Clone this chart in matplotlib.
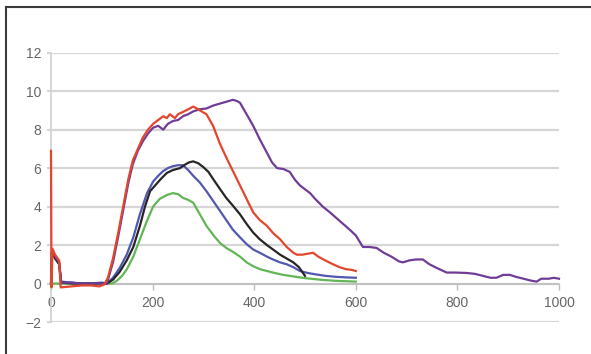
import numpy as np
import matplotlib.pyplot as plt
from matplotlib.lines import Line2D

plt.rcParams['font.family'] = ['Liberation Sans', 'DejaVu Sans']

# data
red_x = [0, 1, 3, 8, 16, 19, 40, 60, 80, 95, 105, 112, 122, 132, 142, 152, 161, 171, 181, 191,
         201, 211, 221, 228, 234, 244, 250, 258, 266, 273, 280, 287, 293, 306, 319, 332, 346,
         359, 372, 385, 398, 411, 425, 438, 451, 464, 477, 484, 495, 505, 516, 526, 540, 555,
         568, 580, 594, 600]
red_y = [6.9, -0.2, 1.8, 1.5, 1.2, -0.2, -0.15, -0.1, -0.1, -0.15, -0.05, 0.3, 1.3, 2.6, 4.0,
         5.4, 6.4, 7.0, 7.6, 8.0, 8.3, 8.5, 8.7, 8.6, 8.8, 8.6, 8.8, 8.9, 9.0, 9.1, 9.2, 9.1,
         9.0, 8.8, 8.2, 7.3, 6.5, 5.8, 5.1, 4.4, 3.7, 3.3, 3.0, 2.6, 2.3, 1.9, 1.6, 1.5, 1.5,
         1.55, 1.6, 1.4, 1.2, 1.0, 0.85, 0.75, 0.7, 0.65]

purple_x = [0, 2, 8, 16, 20, 40, 60, 80, 100, 110, 122, 132, 142, 152, 161, 171, 181, 191, 201,
            211, 221, 230, 240, 250, 260, 270, 280, 293, 306, 319, 332, 345, 358, 365, 372, 385,
            398, 411, 425, 435, 445, 458, 470, 480, 490, 500, 510, 520, 535, 549, 562, 575, 588,
            600, 614, 627, 641, 655, 670, 685, 693, 705, 718, 732, 745, 760, 779, 795, 818, 835,
            850, 865, 877, 890, 903, 915, 930, 945, 956, 965, 980, 990, 1000]
purple_y = [0, 1.7, 1.4, 1.1, 0.05, 0.05, 0.0, 0.0, 0.0, 0.0, 1.1, 2.4, 3.8, 5.2, 6.2, 6.9, 7.4,
            7.8, 8.1, 8.2, 8.0, 8.3, 8.45, 8.5, 8.7, 8.8, 8.95, 9.06, 9.1, 9.25, 9.35, 9.45, 9.55,
            9.5, 9.4, 8.8, 8.2, 7.5, 6.8, 6.3, 6.0, 5.95, 5.8, 5.4, 5.1, 4.9, 4.7, 4.4, 4.0, 3.7,
            3.4, 3.1, 2.8, 2.5, 1.9, 1.9, 1.85, 1.6, 1.4, 1.15, 1.1, 1.2, 1.25, 1.25, 1.0, 0.8,
            0.57, 0.57, 0.55, 0.5, 0.4, 0.3, 0.3, 0.45, 0.45, 0.35, 0.25, 0.15, 0.1, 0.25, 0.25,
            0.3, 0.25]

blue_x = [0, 2, 8, 16, 20, 40, 60, 80, 100, 110, 122, 135, 149, 162, 175, 189, 201, 211, 221,
          230, 240, 250, 260, 270, 280, 293, 306, 319, 332, 345, 358, 372, 385, 398, 411, 425,
          437, 451, 464, 477, 490, 505, 520, 540, 560, 580, 600]
blue_y = [0, 1.7, 1.4, 1.1, 0.1, 0.05, 0.0, 0.0, 0.05, 0.0, 0.3, 0.8, 1.5, 2.4, 3.6, 4.7, 5.3,
          5.6, 5.85, 6.0, 6.1, 6.15, 6.15, 5.9, 5.6, 5.25, 4.8, 4.3, 3.8, 3.3, 2.8, 2.4, 2.05,
          1.77, 1.6, 1.4, 1.25, 1.1, 1.0, 0.85, 0.65, 0.55, 0.48, 0.4, 0.35, 0.32, 0.3]

black_x = [0, 2, 8, 16, 20, 40, 60, 80, 100, 110, 122, 135, 149, 162, 175, 185, 195, 205, 215,
           228, 240, 254, 265, 272, 280, 290, 300, 310, 320, 333, 345, 358, 372, 385, 398, 411,
           425, 437, 451, 464, 477, 488, 496, 500]
black_y = [0, 1.6, 1.3, 1.0, 0.05, 0.0, 0.0, 0.0, 0.0, 0.0, 0.2, 0.6, 1.2, 1.9, 3.0, 4.0, 4.8,
           5.1, 5.4, 5.75, 5.9, 6.0, 6.2, 6.3, 6.35, 6.25, 6.05, 5.8, 5.4, 4.9, 4.45, 4.05, 3.6,
           3.1, 2.65, 2.3, 2.0, 1.77, 1.5, 1.3, 1.1, 0.85, 0.55, 0.4]

green_x = [0, 20, 60, 100, 120, 130, 140, 149, 162, 175, 188, 201, 214, 228, 240, 250, 260, 270,
           280, 293, 306, 320, 333, 345, 358, 372, 385, 398, 411, 425, 437, 457, 477, 500, 530,
           560, 600]
green_y = [0, 0.0, 0.0, 0.0, 0.0, 0.15, 0.4, 0.73, 1.4, 2.3, 3.2, 4.0, 4.4, 4.6, 4.7, 4.65,
           4.45, 4.35, 4.2, 3.6, 3.0, 2.5, 2.1, 1.85, 1.65, 1.4, 1.1, 0.9, 0.75, 0.65, 0.57,
           0.45, 0.37, 0.28, 0.2, 0.14, 0.1]

fig = plt.figure(figsize=(5.91, 3.54), dpi=100)
ax = fig.add_axes([51 / 591, 1 - 322 / 354, 508 / 591, 269.3 / 354])

lw = 1.6
ax.plot(green_x, green_y, color="#62B655", lw=lw, clip_on=False, zorder=3)
ax.plot(blue_x, blue_y, color="#5257B0", lw=lw, clip_on=False, zorder=3)
ax.plot(black_x, black_y, color="#262626", lw=lw, clip_on=False, zorder=3)
ax.plot(purple_x, purple_y, color="#6F3D98", lw=lw, clip_on=False, zorder=3)
ax.plot(red_x, red_y, color="#E2462D", lw=lw, clip_on=False, zorder=3)

ax.set_xlim(0, 1000)
ax.set_ylim(-2, 12)
ax.set_xticks(np.arange(0, 1001, 200))
ax.set_yticks(np.arange(-2, 13, 2))
ax.grid(axis="y", color="#D6D6D6", lw=1.6)
ax.set_axisbelow(True)

for s in ["top", "right"]:
    ax.spines[s].set_visible(False)
ax.spines["bottom"].set_position(("data", 0))
ax.spines["bottom"].set_color("#BDBDBD")
ax.spines["left"].set_color("#D0D0D0")
ax.spines["bottom"].set_linewidth(1.2)
ax.spines["left"].set_linewidth(1.2)
ax.tick_params(axis="x", colors="#BDBDBD", length=4, width=1, labelcolor="#666666",
               labelsize=10, pad=5)
ax.tick_params(axis="y", colors="#D6D6D6", length=3, width=1.6, labelcolor="#666666",
               labelsize=10, pad=4)

# frame around the picture (top and left only)
fig.add_artist(Line2D([6 / 591, 1], [1 - 7 / 354, 1 - 7 / 354], color="#3A3A3A", lw=1.5))
fig.add_artist(Line2D([6 / 591, 6 / 591], [0, 1 - 7 / 354], color="#3A3A3A", lw=1.5))

fig.savefig("out.png", dpi=100)
